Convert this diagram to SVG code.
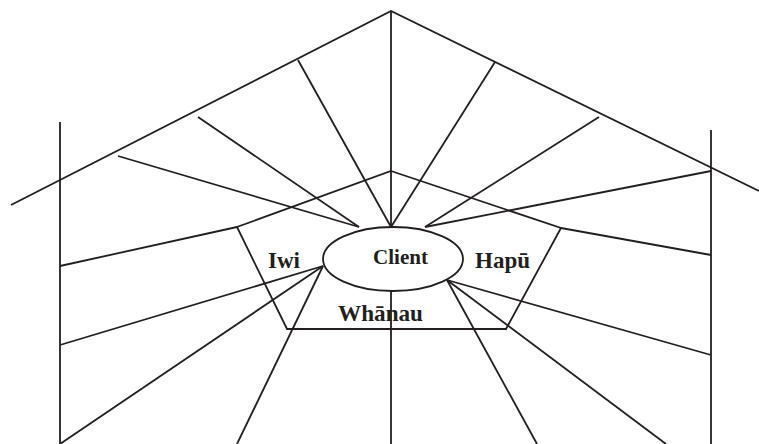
<svg xmlns="http://www.w3.org/2000/svg" width="759" height="444" viewBox="0 0 759 444">
<style>
.ln{stroke:#231f20;stroke-width:1.8;fill:none;stroke-linecap:butt;stroke-linejoin:miter}
.lbl{font-family:"Liberation Serif","Times New Roman",serif;font-weight:bold;fill:#231f20}
</style>
<rect width="759" height="444" fill="#fff"/>
<g id="house" class="ln">
  <polyline points="11,205 391,11 759,191"/>
  <line x1="60" y1="122" x2="60" y2="444"/>
  <line x1="711" y1="130" x2="711" y2="444"/>
</g>
<g id="whanau-house">
  <polygon class="ln" points="391,171 561,228 506,329 287,329 237,227"/>
</g>
<g id="connectors" class="ln">
  <line x1="391" y1="11" x2="391" y2="227"/>
  <line x1="118" y1="156" x2="359" y2="227"/>
  <line x1="198" y1="117" x2="359" y2="227"/>
  <line x1="298" y1="60" x2="391" y2="227"/>
  <line x1="495" y1="62" x2="391" y2="227"/>
  <line x1="599" y1="117" x2="425" y2="227"/>
  <line x1="711" y1="171" x2="425" y2="227"/>
  <line x1="60" y1="266" x2="237" y2="227"/>
  <line x1="561" y1="228" x2="711" y2="255"/>
  <line x1="60" y1="345" x2="323" y2="266"/>
  <line x1="60" y1="444" x2="323" y2="266"/>
  <line x1="237" y1="444" x2="323" y2="266"/>
  <line x1="447" y1="280" x2="711" y2="355"/>
  <line x1="447" y1="280" x2="666" y2="444"/>
  <line x1="447" y1="280" x2="537" y2="444"/>
  <line x1="391" y1="291" x2="391" y2="444"/>
</g>
<g id="client">
  <ellipse class="ln" cx="393" cy="259" rx="70" ry="32" fill="#fff"/>
  <text class="lbl" x="373" y="264" font-size="22" textLength="55" lengthAdjust="spacingAndGlyphs">Client</text>
</g>
<g id="iwi"><text class="lbl" x="268" y="268" font-size="24" textLength="32" lengthAdjust="spacingAndGlyphs">Iwi</text></g>
<g id="hapu"><text class="lbl" x="475" y="268" font-size="24" textLength="55" lengthAdjust="spacingAndGlyphs">Hapū</text></g>
<g id="whanau"><text class="lbl" x="338" y="321" font-size="24" textLength="85" lengthAdjust="spacingAndGlyphs">Whānau</text></g>
</svg>
